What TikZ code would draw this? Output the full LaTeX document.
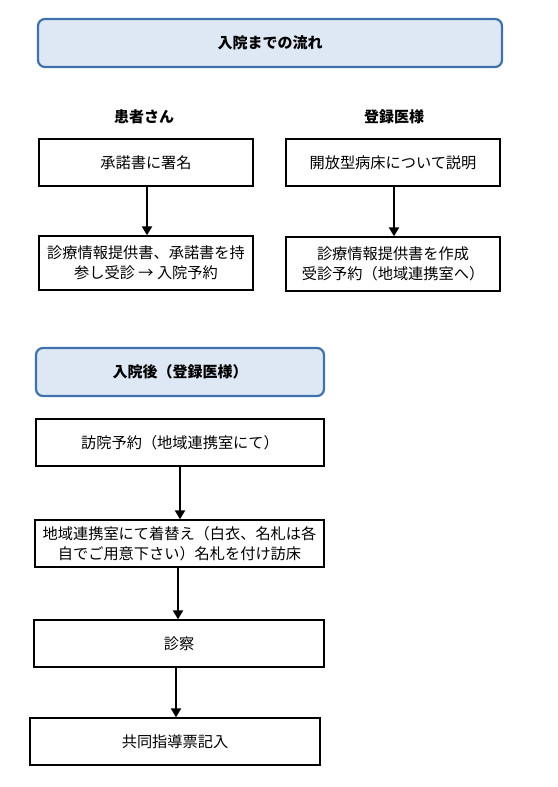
\documentclass[tikz,border=0pt]{standalone}
\usepackage{fontspec}
\newfontfamily\jp{Noto Sans CJK JP}
\usetikzlibrary{arrows.meta}
\definecolor{bannerfill}{HTML}{DEE8F5}
\definecolor{bannerline}{HTML}{3F72AB}
\tikzset{
  banner/.style={draw=bannerline, line width=2.2pt, fill=bannerfill, rounded corners=7pt,
    inner sep=0pt, minimum height=48pt,
    font=\jp\bfseries\fontsize{15}{18}\selectfont},
  stepbox/.style={draw=black, line width=1.4pt, fill=white, align=center, inner sep=0pt,
    minimum width=214pt, minimum height=47pt,
    font=\jp\fontsize{15.2}{19.5}\selectfont},
  heading/.style={font=\jp\bfseries\fontsize{15}{18}\selectfont},
  flow/.style={line width=2.8pt, -{Triangle[width=10pt,length=9pt]}},
}
\begin{document}
\begin{tikzpicture}[x=1pt,y=-1pt]
\useasboundingbox[fill=white] (0,0) rectangle (557,787);
% top part
\node[banner, minimum width=464pt] (b1) at (270,43) {入院までの流れ};
\node[heading] (h1) at (144,117) {患者さん};
\node[heading] (h2) at (394,117) {登録医様};
\node[stepbox] (s1) at (146,162.5) {承諾書に署名};
\node[stepbox] (s2) at (393,162.5) {開放型病床について説明};
\node[stepbox, minimum height=54pt] (s3) at (146,263) {診療情報提供書、承諾書を持\\参し受診 → 入院予約};
\node[stepbox, minimum height=54pt] (s4) at (393,264) {診療情報提供書を作成\\受診予約（地域連携室へ）};
\draw[flow] ([xshift=1pt]s1.south) -- ([xshift=1pt]s3.north);
\draw[flow] ([xshift=1pt]s2.south) -- ([xshift=1pt]s4.north);
% second part
\node[banner, minimum width=288pt] (b2) at (180,372) {入院後（登録医様）};
\node[stepbox, minimum width=288pt] (t1) at (180,442.5) {訪院予約（地域連携室にて）};
\node[stepbox, minimum width=289pt] (t2) at (179.5,543.5) {地域連携室にて着替え（白衣、名札は各\\自でご用意下さい）名札を付け訪床};
\node[stepbox, minimum width=290pt] (t3) at (179,643.5) {診察};
\node[stepbox, minimum width=290pt] (t4) at (175,741.5) {共同指導票記入};
\draw[flow] (t1.south) -- (t1.south |- t2.north);
\draw[flow] ([xshift=-1.5pt]t2.south) -- ([xshift=-1.5pt]t2.south |- t3.north);
\draw[flow] ([xshift=-3pt]t3.south) -- ([xshift=-3pt]t3.south |- t4.north);
\end{tikzpicture}
\end{document}
